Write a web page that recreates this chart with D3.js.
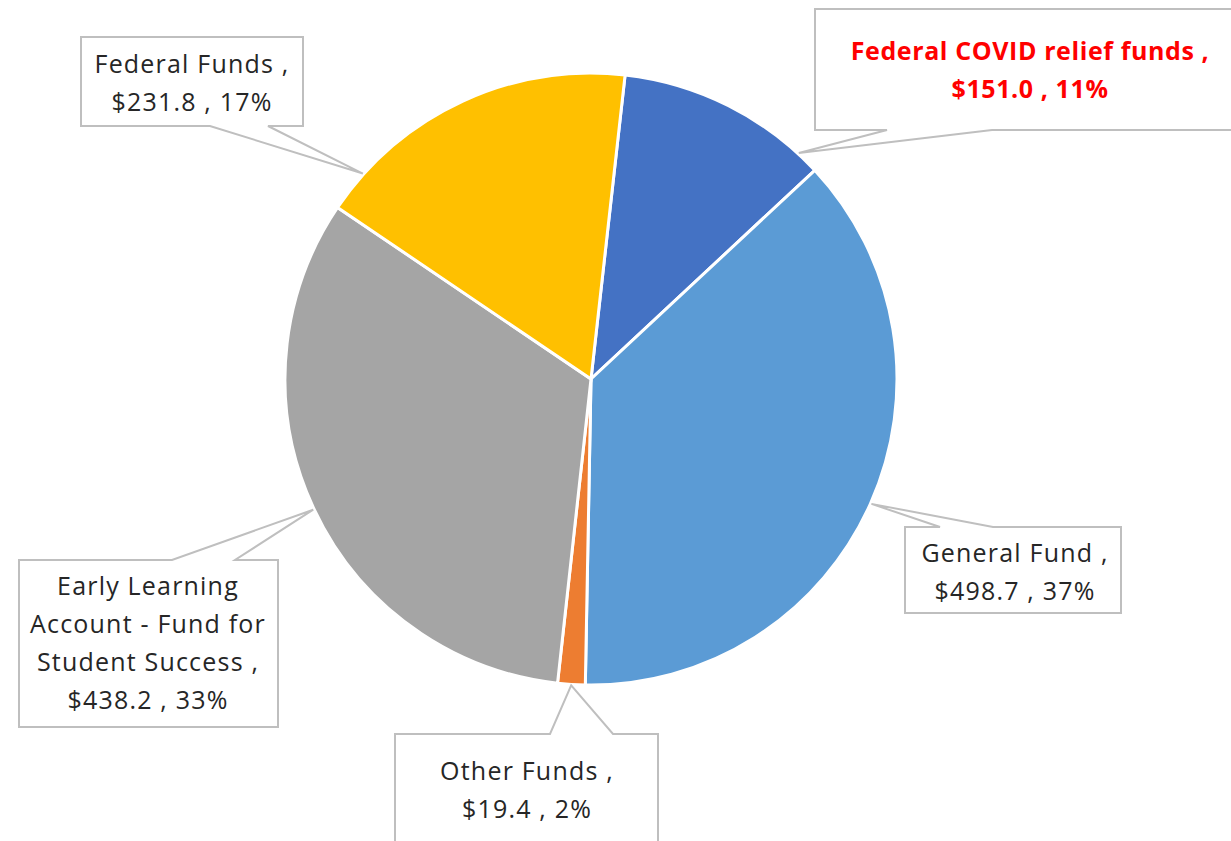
<!DOCTYPE html>
<head>
<meta charset="utf-8">
<style>
body { margin: 0; background: #fff; }
text { font-family: "Open Sans", "Noto Sans", sans-serif; font-size: 25px; fill: #262626; letter-spacing: 1.2px; }
path.slice { stroke: #fff; stroke-width: 3px; }
path.callout { fill: #fff; stroke: #bfbfbf; stroke-width: 2px; }
</style>
<script src="https://cdn.jsdelivr.net/npm/d3@7"></script>
</head>
<body>
<script>

// data ($ millions)
var funds = ["Federal COVID relief funds", "General Fund", "Other Funds",
             "Early Learning Account - Fund for Student Success", "Federal Funds"];
var amounts = [151.0, 498.7, 19.4, 438.2, 231.8];
var shares = ["11%", "37%", "2%", "33%", "17%"];
var labelLines = [
  ["Federal COVID relief funds  ,", "$151.0 , 11%"],
  ["General Fund ,", "$498.7 , 37%"],
  ["Other Funds ,", "$19.4 , 2%"],
  ["Early Learning", "Account - Fund for", "Student Success ,", "$438.2 , 33%"],
  ["Federal Funds ,", "$231.8 , 17%"]
];
var colors = ["#4472c4", "#5b9bd5", "#ed7d31", "#a5a5a5", "#ffc000"];

var width = 1231, height = 841;
var cx = 591, cy = 379, radius = 306;

// callout boxes: box edges, pointer base on one side, tip angle on pie
var callouts = [
  {x0: 815, y0: 9, x1: 1245, y1: 130, side: "bottom", b0: 887, b1: 992, tip: 42.6, lx: 1030, ly: 60, color: "red", bold: true},
  {x0: 905, y0: 527, x1: 1121, y1: 613, side: "top", b0: 940, b1: 993, tip: 114, lx: 1015, ly: 562},
  {x0: 395, y0: 734, x1: 658, y1: 860, side: "top", b0: 550, b1: 613, tip: 183.7, lx: 527, ly: 780},
  {x0: 19, y0: 560, x1: 278, y1: 727, side: "top", b0: 172, b1: 235, tip: 244.8, lx: 148, ly: 595},
  {x0: 81, y0: 37, x1: 303, y1: 126, side: "bottom", b0: 210, b1: 268, tip: 312, lx: 192, ly: 73}
];

var svg = d3.select("body").append("svg")
    .attr("width", width)
    .attr("height", height);

var pie = d3.pie()
    .sort(null)
    .startAngle(6.4 * Math.PI / 180)
    .endAngle(366.4 * Math.PI / 180);

var arc = d3.arc().innerRadius(0).outerRadius(radius);

var g = svg.append("g").attr("transform", "translate(" + cx + "," + cy + ")");

g.selectAll("path.slice")
    .data(pie(amounts))
    .enter().append("path")
    .attr("class", "slice")
    .attr("d", arc)
    .style("fill", function(d, i) { return colors[i]; });

function calloutPath(c) {
  var a = c.tip * Math.PI / 180;
  var tx = cx + (radius + 1) * Math.sin(a),
      ty = cy - (radius + 1) * Math.cos(a);
  if (c.side === "bottom") {
    return "M" + c.x0 + "," + c.y0 + "H" + c.x1 + "V" + c.y1 +
      "H" + c.b1 + "L" + tx + "," + ty + "L" + c.b0 + "," + c.y1 +
      "H" + c.x0 + "Z";
  }
  return "M" + c.x0 + "," + c.y0 + "H" + c.b0 + "L" + tx + "," + ty +
    "L" + c.b1 + "," + c.y0 + "H" + c.x1 + "V" + c.y1 + "H" + c.x0 + "Z";
}

var labels = svg.selectAll("g.label")
    .data(callouts)
    .enter().append("g")
    .attr("class", "label");

labels.append("path")
    .attr("class", "callout")
    .attr("d", calloutPath);

labels.each(function(c, i) {
  var t = d3.select(this).append("text")
      .attr("text-anchor", "middle")
      .style("fill", c.color || "#262626")
      .style("font-weight", c.bold ? "bold" : "normal")
      .style("letter-spacing", c.bold ? "0.6px" : null);
  labelLines[i].forEach(function(line, j) {
    t.append("tspan")
        .attr("x", c.lx)
        .attr("y", c.ly + j * 38)
        .text(line);
  });
});

</script>
</body>
</html>
